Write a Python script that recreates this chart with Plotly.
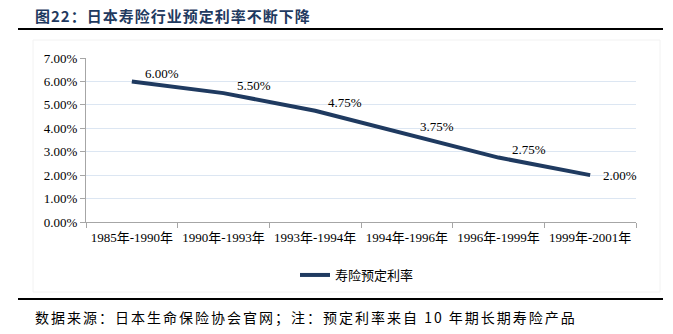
import plotly.graph_objects as go

categories = ["1985年-1990年", "1990年-1993年", "1993年-1994年", "1994年-1996年", "1996年-1999年", "1999年-2001年"]
rates = [0.06, 0.055, 0.0475, 0.0375, 0.0275, 0.02]
series_name = "寿险预定利率"
title_text = "图22：日本寿险行业预定利率不断下降"
source_text = "数据来源：日本生命保险协会官网；注：预定利率来自 10 年期长期寿险产品"

W, H = 673, 334
L, R, T, B = 86, 636, 58, 222

def px_x(px):
    return (px - L) / (R - L)

def px_y(py):
    return (B - py) / (B - T)

serif = "Liberation Serif, Times New Roman, Noto Sans CJK SC"
cjk = "Noto Sans CJK SC"
navy = "#1F3A60"

fig = go.Figure()
fig.add_trace(go.Scatter(
    x=categories, y=rates, mode="lines", name=series_name,
    line=dict(color=navy, width=4),
    cliponaxis=False,
))

for i, (c, v) in enumerate(zip(categories, rates)):
    last = i == len(rates) - 1
    fig.add_annotation(x=c, y=v, text=f"{v*100:.2f}%", showarrow=False,
                       xanchor="left", yanchor="middle", xshift=11, yshift=0 if last else 8,
                       font=dict(family=serif, size=13, color="#000"))

fig.update_layout(
    width=W, height=H,
    margin=dict(l=L, r=W - R, t=T, b=H - B),
    paper_bgcolor="white", plot_bgcolor="white",
    showlegend=True,
    legend=dict(orientation="h", x=px_x(357), xanchor="center", y=px_y(275), yanchor="middle",
                font=dict(family=cjk, size=13, color="#000"), bgcolor="rgba(0,0,0,0)",
                itemwidth=30),
    xaxis=dict(type="category", tickson="boundaries", showgrid=False,
               showline=True, linecolor="#A6A6A6", linewidth=1,
               ticks="outside", ticklen=5, tickcolor="#A6A6A6",
               tickfont=dict(family=serif, size=13, color="#000"),
               ticklabelstandoff=3,
               range=[-0.5, len(categories) - 0.5]),
    yaxis=dict(range=[0, 0.07], dtick=0.01, tickformat=".2%",
               showgrid=True, gridcolor="#DCE6F2", gridwidth=1,
               showline=True, linecolor="#A6A6A6", linewidth=1,
               ticks="outside", ticklen=5, tickcolor="#A6A6A6",
               tickfont=dict(family=serif, size=13, color="#000"),
               zeroline=False),
)

# header/footer rules
fig.add_shape(type="line", xref="paper", yref="paper", x0=px_x(18), x1=px_x(663), y0=px_y(29), y1=px_y(29),
              line=dict(color="#000", width=2))
fig.add_shape(type="line", xref="paper", yref="paper", x0=px_x(18), x1=px_x(663), y0=px_y(299), y1=px_y(299),
              line=dict(color="#000", width=2))
# faint chart border
fig.add_shape(type="rect", xref="paper", yref="paper", x0=px_x(33), x1=px_x(660), y0=px_y(40), y1=px_y(292),
              line=dict(color="#F2F2F2", width=1))

fig.add_annotation(text=f'<span style="letter-spacing:1px">{title_text}</span>', xref="paper", yref="paper",
                   x=px_x(33), y=px_y(15),
                   xanchor="left", yanchor="middle", showarrow=False,
                   font=dict(family=cjk, size=15, color=navy, weight="bold"))
fig.add_annotation(text=f'<span style="letter-spacing:2px">{source_text}</span>', xref="paper", yref="paper",
                   x=px_x(33), y=px_y(317),
                   xanchor="left", yanchor="middle", showarrow=False,
                   font=dict(family=cjk, size=14, color="#000"))

fig.write_html("out.html")
